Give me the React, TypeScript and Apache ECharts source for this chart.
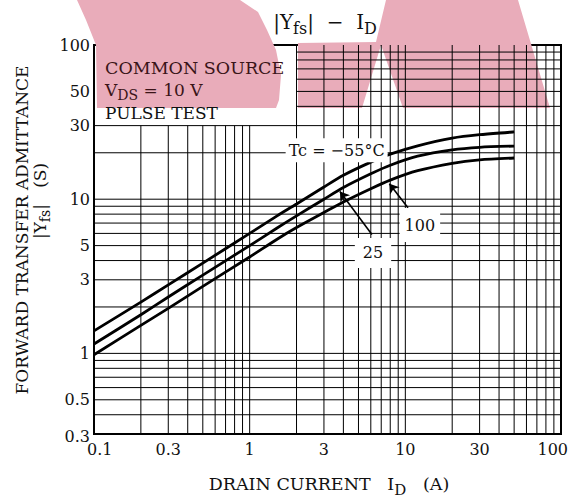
import React, { useEffect, useRef } from "react";
import * as echarts from "echarts";

// Drain current I_D (A) and forward transfer admittance |Yfs| (S) per case temperature
const currentA = [0.1, 0.2, 0.3, 0.5, 1, 1.5, 2, 3, 4, 6, 8, 12, 20, 30, 50];
const yfsMinus55 = [1.4, 2.15, 2.78, 3.85, 6.0, 7.8, 9.3, 12.0, 14.3, 17.4, 19.6, 22.2, 24.9, 26.2, 27.3];
const yfs25 = [1.15, 1.78, 2.32, 3.22, 5.0, 6.5, 7.8, 10.0, 11.9, 14.6, 16.6, 19.0, 20.9, 21.7, 22.1];
const yfs100 = [0.98, 1.52, 1.96, 2.72, 4.22, 5.5, 6.55, 8.2, 9.6, 11.7, 13.3, 15.3, 17.1, 18.0, 18.5];

// Axis labels
const xTickLabels = [0.1, 0.3, 1, 3, 10, 30, 100];
const yTickLabels = [0.3, 0.5, 1, 3, 5, 10, 30, 50, 100];

// Log-paper grid rules
const xGridValues = [
  0.2, 0.3, 0.4, 0.5, 0.6, 0.7, 0.8, 0.9,
  1, 2, 3, 4, 5, 6, 7, 8, 9,
  10, 20, 30, 40, 50, 60, 70, 80, 90,
];
const yGridValues = [
  0.4, 0.5, 0.6, 0.7, 0.8, 0.9,
  1, 2, 3, 4, 5, 6, 7, 8, 9,
  10, 20, 30, 40, 50, 60, 70, 80, 90,
];

// Condition box occupies this corner of the grid (no rules inside)
const boxMaxX = 2;
const boxMinY = 30;

const FONT = '"DejaVu Serif", "Liberation Serif", serif';
const INK = "#111";
const STAMP_INK = "#3a1418";

// Watermark outlines (page pixels)
const stampS = [
  [77, 0], [240, 0], [258, 12], [267, 30], [276, 50], [281, 75],
  [279, 100], [276, 108], [97, 108], [96, 45], [86, 20],
];
const stampN = [
  [298, 108], [298, 43], [376, 42], [386, 0], [518, 0],
  [550, 108], [403, 108], [381, 45], [362, 108],
];

function richStyles(size: number, sub: number, fill = INK) {
  return {
    n: { fontFamily: FONT, fontSize: size, lineHeight: size + 2, verticalAlign: "top", fill },
    s: {
      fontFamily: FONT,
      fontSize: sub,
      lineHeight: sub + 1,
      padding: [Math.round(size * 0.42), 0, 0, 0],
      verticalAlign: "top",
      fill,
    },
  };
}

export default function App() {
  const ref = useRef<HTMLDivElement>(null);

  useEffect(() => {
    const el = ref.current!;
    const chart = echarts.init(el, undefined, { renderer: "svg" });

    const curve = (vals: number[], name: string) => ({
      type: "line",
      name,
      data: currentA.map((x, i) => [x, vals[i]]),
      smooth: 0.25,
      showSymbol: false,
      symbol: "none",
      silent: true,
      z: 3,
      lineStyle: { color: "#000", width: 2.8 },
    });

    const axisBase = {
      type: "log" as const,
      logBase: 10,
      axisLine: { show: false },
      axisTick: { show: false },
      axisLabel: { show: false },
      splitLine: { show: false },
    };

    chart.setOption({
      animation: false,
      grid: {
        left: 94,
        right: 12,
        top: 45,
        bottom: 64,
        show: true,
        borderColor: "#000",
        borderWidth: 2,
        backgroundColor: "transparent",
      },
      xAxis: { ...axisBase, min: 0.1, max: 100 },
      yAxis: { ...axisBase, min: 0.3, max: 100 },
      series: [
        // pale red stamp printed across the top of the sheet
        {
          type: "custom",
          silent: true,
          z: 0,
          clip: false,
          data: [0],
          renderItem: () => ({
            type: "group",
            children: [stampS, stampN].map((pts) => ({
              type: "polygon",
              shape: { points: pts },
              style: { fill: "rgb(233, 172, 186)" },
            })),
          }),
        },
        curve(yfsMinus55, "Tc = -55°C"),
        curve(yfs25, "25"),
        curve(yfs100, "100"),
        {
          type: "line",
          data: [],
          silent: true,
          z: 12,
          markLine: {
            silent: true,
            symbol: ["none", "arrow"],
            symbolSize: 9,
            label: { show: false },
            lineStyle: { color: "#000", width: 1.6, type: "solid" },
            emphasis: { disabled: true },
            data: [
              [{ coord: [6.1, 5.9] }, { coord: [3.8, 11.2] }],
              [{ coord: [10.4, 8.8] }, { coord: [7.9, 12.6] }],
            ],
          },
        },
      ],
    });

    const toPx = (x: number, y: number) =>
      chart.convertToPixel({ xAxisIndex: 0, yAxisIndex: 0 }, [x, y]) as number[];

    const graphics: any[] = [];

    // grid rules of the log paper, placed through the axes' scales
    const rule = (a: number[], b: number[]) => ({
      type: "line",
      z: 1,
      silent: true,
      shape: { x1: a[0], y1: a[1], x2: b[0], y2: b[1] },
      style: { stroke: "#000", lineWidth: 1 },
    });
    for (const v of xGridValues) {
      const top = v < boxMaxX ? boxMinY : 100;
      graphics.push(rule(toPx(v, 0.3), toPx(v, top)));
    }
    for (const v of yGridValues) {
      const left = v > boxMinY ? boxMaxX : 0.1;
      graphics.push(rule(toPx(left, v), toPx(100, v)));
    }

    const tickFont = { fontFamily: FONT, fontSize: 16, fill: INK };
    xTickLabels.forEach((v, i) => {
      const p = toPx(v, 0.3);
      let x = p[0];
      let align = "center";
      if (i === 0) {
        x = p[0] - 7;
        align = "left";
      } else if (i === xTickLabels.length - 1) {
        x = p[0] + 7;
        align = "right";
      }
      graphics.push({
        type: "text",
        x,
        y: p[1] + 15,
        z: 10,
        style: { ...tickFont, text: String(v), align, verticalAlign: "middle" },
      });
    });
    yTickLabels.forEach((v) => {
      const p = toPx(0.1, v);
      graphics.push({
        type: "text",
        x: p[0] - 4,
        y: v === 0.3 ? p[1] + 2 : p[1],
        z: 10,
        style: { ...tickFont, text: String(v), align: "right", verticalAlign: "middle" },
      });
    });

    // Test conditions in the upper-left box
    const corner = toPx(0.1, 100);
    const condX = corner[0] + 11;
    graphics.push(
      {
        type: "text",
        x: condX,
        y: corner[1] + 23,
        z: 10,
        style: { fontFamily: FONT, fontSize: 17.5, fill: STAMP_INK, text: "COMMON SOURCE", align: "left", verticalAlign: "middle" },
      },
      {
        type: "text",
        x: condX,
        y: corner[1] + 36,
        z: 10,
        style: {
          text: "{n|V}{s|DS}{n| = 10 V}",
          align: "left",
          verticalAlign: "top",
          rich: richStyles(17, 14, STAMP_INK),
        },
      },
      {
        type: "text",
        x: condX,
        y: corner[1] + 68,
        z: 10,
        style: { fontFamily: FONT, fontSize: 17, fill: INK, text: "PULSE TEST", align: "left", verticalAlign: "middle" },
      }
    );

    // Curve labels with white boxes
    const boxed = (pos: number[], text: string, padding: number[]) => ({
      type: "text",
      x: pos[0],
      y: pos[1],
      z: 10,
      style: {
        fontFamily: FONT,
        fontSize: 16,
        fill: INK,
        text,
        align: "center",
        verticalAlign: "middle",
        backgroundColor: "#fff",
        padding,
      },
    });
    graphics.push(
      boxed(toPx(3.62, 20.8), "Tc = \u221255\u00b0C", [4, 3]),
      boxed(toPx(6.2, 4.48), "25", [7, 8]),
      boxed(toPx(12.4, 6.8), "100", [9, 5])
    );

    // Title and axis names
    graphics.push(
      {
        type: "text",
        x: 325,
        y: 12,
        z: 10,
        style: {
          text: "{n||Y}{s|fs}{n||  \u2212  I}{s|D}",
          align: "center",
          verticalAlign: "top",
          rich: richStyles(20, 16),
        },
      },
      {
        type: "text",
        x: 329,
        y: 475,
        z: 10,
        style: {
          text: "{n|DRAIN CURRENT   I}{s|D}{n|   (A)}",
          align: "center",
          verticalAlign: "top",
          rich: richStyles(17.5, 15),
        },
      },
      {
        type: "text",
        x: 22,
        y: 230,
        z: 10,
        rotation: Math.PI / 2,
        style: {
          fontFamily: FONT,
          fontSize: 17,
          fill: INK,
          text: "FORWARD TRANSFER ADMITTANCE",
          align: "center",
          verticalAlign: "middle",
        },
      },
      {
        type: "text",
        x: 31,
        y: 201,
        z: 10,
        rotation: Math.PI / 2,
        style: {
          text: "{n||Y}{s|fs}{n||   (S)}",
          align: "center",
          verticalAlign: "top",
          rich: richStyles(17, 14),
        },
      }
    );

    chart.setOption({ graphic: graphics });

    return () => chart.dispose();
  }, []);

  return (
    <div
      ref={ref}
      style={{ position: "fixed", left: 0, top: 0, width: 573, height: 498, background: "#fff" }}
    />
  );
}
